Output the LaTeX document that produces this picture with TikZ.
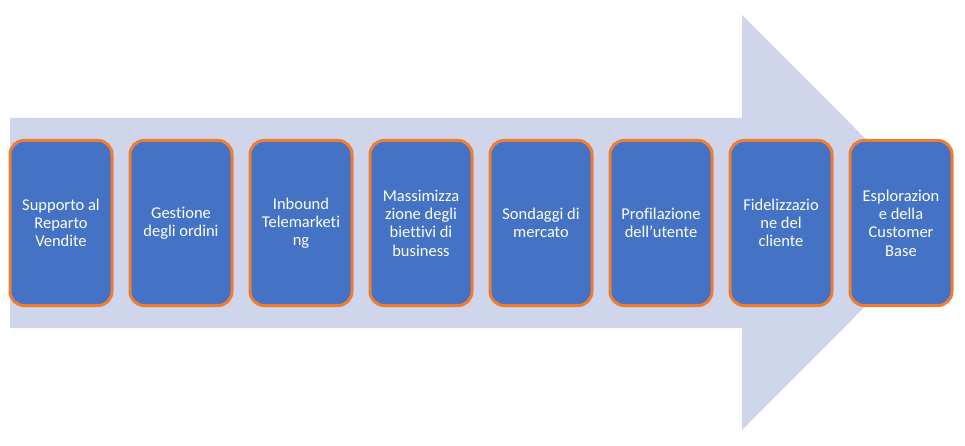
\documentclass[tikz,border=0pt]{standalone}
\usepackage{fontspec}
\newfontfamily\calibri[Ligatures=NoCommon]{Carlito}
\usetikzlibrary{positioning}

\definecolor{boxblue}{HTML}{4472C4}
\definecolor{boxorange}{HTML}{ED7D31}
\definecolor{arrowlav}{HTML}{CFD5EA}

\begin{document}
\begin{tikzpicture}[x=1pt, y=-1pt, node distance=15pt,
  every node/.style={font=\calibri\fontsize{16.5}{18.3}\selectfont},
  stage/.style={rectangle, draw=boxorange, line width=3pt, fill=boxblue,
    rounded corners=14pt, minimum width=102pt, minimum height=165pt,
    text=white, align=center, inner sep=2pt}]
  \useasboundingbox (0,0) rectangle (965,446);
  % Arrow
  \fill[arrowlav] (10,118) -- (742,118) -- (742,15) -- (949,222.5)
    -- (742,430) -- (742,328) -- (10,328) -- cycle;

  % Nodes
  \node (supporto) [stage] at (61,223) {Supporto al\\Reparto\\Vendite};
  \node (gestione) [stage, right=of supporto] {Gestione\\degli ordini};
  \node (inbound) [stage, right=of gestione] {Inbound\\Telemarketi\\ng};
  \node (massimizzazione) [stage, right=of inbound] {Massimizza\\zione degli\\biettivi di\\business};
  \node (sondaggi) [stage, right=of massimizzazione] {Sondaggi di\\mercato};
  \node (profilazione) [stage, right=of sondaggi] {Profilazione\\dell’utente};
  \node (fidelizzazione) [stage, right=of profilazione] {Fidelizzazio\\ne del\\cliente};
  \node (esplorazione) [stage, right=of fidelizzazione] {Esplorazion\\e della\\Customer\\Base};
\end{tikzpicture}
\end{document}
